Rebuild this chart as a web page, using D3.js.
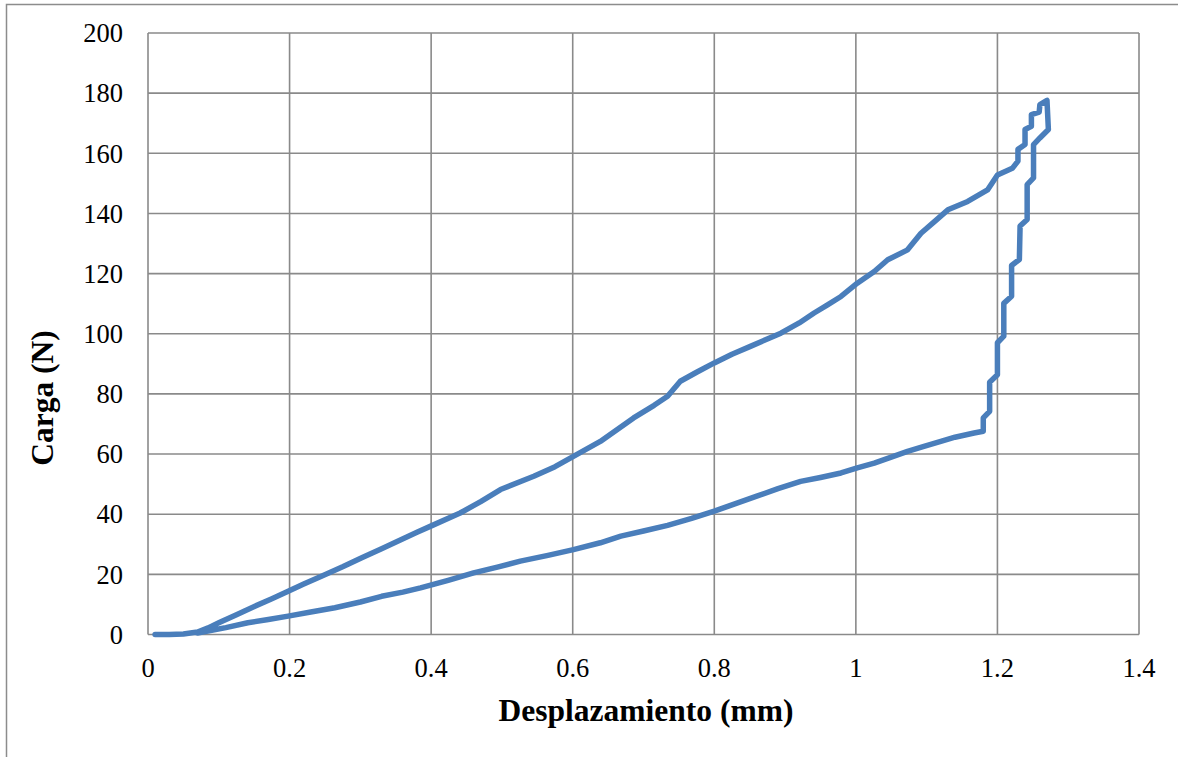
<!DOCTYPE html>
<html><head><meta charset="utf-8">
<script src="https://cdn.jsdelivr.net/npm/d3@7"></script>
<style>html,body{margin:0;padding:0;background:#fff;}svg{display:block;}</style>
</head><body>
<script>
// Data: displacement (mm) and load (N) along the recorded path
const desplazamiento = [
  0.01,0.03,0.05,0.07,0.085,0.10,0.125,0.151,0.175,0.198,0.22,0.245,0.275,0.302,0.33,0.358,0.38,0.401,0.441,0.47,0.498,0.545,0.575,0.601,0.639,0.686,0.715,0.734,0.752,0.775,0.80,0.825,0.851,0.894,0.92,0.941,0.96,0.979,1.002,1.026,1.045,1.073,1.092,1.111,1.13,1.158,1.186,1.20,1.221,1.229,1.229,1.239,1.239,1.248,1.248,1.259,1.26,1.27,
  1.272,1.26,1.251,1.251,1.242,1.242,1.232,1.231,1.22,1.22,1.209,1.209,1.20,1.20,1.189,1.189,1.18,1.18,
  1.167,1.14,1.12,1.095,1.073,1.05,1.026,1.002,0.979,0.95,0.922,0.89,0.86,0.83,0.80,0.768,0.734,0.70,0.668,0.639,0.601,0.565,0.526,0.495,0.46,0.424,0.385,0.36,0.33,0.30,0.264,0.23,0.198,0.17,0.141,0.11,0.09,0.07
];
const carga = [
  0,0,0.2,0.8,2.2,3.9,6.6,9.4,11.9,14.4,16.8,19.4,22.5,25.5,28.5,31.6,34,36.2,40.4,44.2,48.2,52.6,55.8,59.2,64.2,72,76.2,79.2,84.2,87.2,90.3,93.2,95.8,100.2,103.6,106.9,109.6,112.4,116.8,120.7,124.6,127.9,133.4,137.3,141.2,144,147.8,152.8,155,157.4,161.3,162.9,167.9,169,172.9,173.7,176.2,177.6,
  167.9,165.1,162.9,151.8,149.6,138,135.8,124.7,122.7,112.5,110.1,99.2,97,86.4,83.9,74.2,72,67.6,
  67,65.6,64.2,62.5,60.9,59,57,55.4,53.7,52.2,50.9,48.5,46,43.5,41,38.6,36.3,34.4,32.7,30.5,28.2,26.3,24.4,22.5,20.5,18,15.5,14.1,12.7,10.8,8.9,7.5,6.1,5,3.9,2.3,1.4,0.5
];
const xTicks = [0,0.2,0.4,0.6,0.8,1,1.2,1.4];
const yTicks = [0,20,40,60,80,100,120,140,160,180,200];
const xTitle = "Desplazamiento (mm)";
const yTitle = "Carga (N)";

(function(){
const W = 1178, H = 757;
const pL = 148, pR = 1139, pT = 33, pB = 634.5;
const svg = d3.select("body").append("svg").attr("width", W).attr("height", H);

svg.append("rect").attr("x",6.5).attr("y",4.5).attr("width",1200).attr("height",800)
  .attr("fill","none").attr("stroke","#8c8c8c").attr("stroke-width",1.5);

const x = d3.scaleLinear().domain([0,1.4]).range([pL,pR]);
const y = d3.scaleLinear().domain([0,200]).range([pB,pT]);

const grid = svg.append("g");
grid.selectAll("line.v").data(xTicks).join("line").attr("class","v")
  .attr("x1",d=>x(d)).attr("x2",d=>x(d)).attr("y1",pT).attr("y2",pB)
  .attr("stroke","#8a8a8a").attr("stroke-width",1.6);
grid.selectAll("line.h").data(yTicks).join("line").attr("class","h")
  .attr("x1",pL).attr("x2",pR).attr("y1",d=>y(d)).attr("y2",d=>y(d))
  .attr("stroke","#8a8a8a").attr("stroke-width",1.6);

const font = "'Liberation Serif','Times New Roman',serif";
svg.append("g").selectAll("text").data(yTicks).join("text")
  .attr("x",pL-25).attr("y",d=>y(d)).attr("dy","0.35em")
  .attr("text-anchor","end").attr("font-family",font).attr("font-size",26.5)
  .attr("fill","#000").text(d=>d);
svg.append("g").selectAll("text").data(xTicks).join("text")
  .attr("x",d=>x(d)).attr("y",677)
  .attr("text-anchor","middle").attr("font-family",font).attr("font-size",26.5)
  .attr("fill","#000").text(d=>d);

svg.append("text").attr("x",646).attr("y",721).attr("text-anchor","middle")
  .attr("font-family",font).attr("font-size",31.5).attr("font-weight","bold").text(xTitle);
svg.append("text").attr("transform","translate(53,398) rotate(-90)").attr("text-anchor","middle")
  .attr("font-family",font).attr("font-size",31.5).attr("font-weight","bold").text(yTitle);

const pts = desplazamiento.map((d,i)=>[d,carga[i]]);
const line = d3.line().x(d=>x(d[0])).y(d=>y(d[1]));
svg.append("path").datum(pts).attr("d",line)
  .attr("fill","none").attr("stroke","#4a7ebb").attr("stroke-width",5.5)
  .attr("stroke-linejoin","round").attr("stroke-linecap","round");
})();
</script>
</body></html>
